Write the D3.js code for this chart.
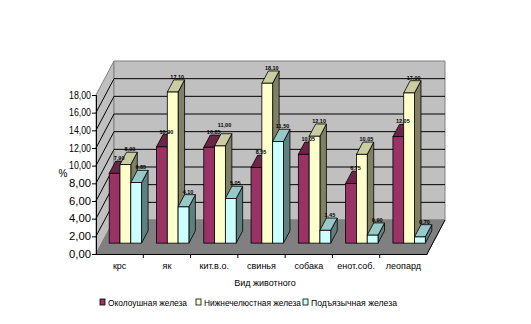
<!DOCTYPE html>
<html><head><meta charset="utf-8">
<script src="https://cdn.jsdelivr.net/npm/d3@7"></script>
<style>body{margin:0;background:#fff}svg{display:block}text{font-family:"Liberation Sans",Arial,sans-serif}</style>
</head><body><svg id="c" width="531" height="324"></svg>
<script>
const categories = ["крс","як","кит.в.о.","свинья","собака","енот.соб.","леопард"];
const seriesNames = ["Околоушная железа","Нижнечелюстная железа","Подъязычная железа"];
const parotid = [7.90,10.90,10.85,8.55,10.05,6.75,12.05];
const mandibular = [8.90,17.10,11.00,18.10,12.10,10.05,17.00];
const sublingual = [6.85,4.10,5.05,11.50,1.45,0.90,0.70];
const yTicks = [0,2,4,6,8,10,12,14,16,18];
const series = [parotid, mandibular, sublingual];
const fronts = ["#993366","#FFFFCC","#CCFFFF"];
const tops = ["#6e2448","#CCCCA3","#99C8C8"];
const sides = ["#4d1933","#808066","#608080"];

const svg = d3.select("#c");
const DX = 18, DY = -34;
const x0 = d3.scaleBand().domain(categories).range([96,427]).paddingInner(0.315).paddingOuter(0.1575);
const x1 = d3.scaleBand().domain(d3.range(3)).range([0,x0.bandwidth()]);
const y = d3.scaleLinear().domain([0,18]).range([254,95]);
const t0 = 0.32, t1 = 0.68;
const pt = (p)=>p.map(q=>q.join(",")).join(" ");

// walls
svg.append("polygon").attr("points",pt([[96,y(0)],[96,y(18)],[96+DX,y(18)+DY],[96+DX,y(0)+DY]])).attr("fill","#c0c0c0").attr("stroke","#808080");
svg.append("polygon").attr("points",pt([[96+DX,y(18)+DY],[427+DX,y(18)+DY],[427+DX,y(0)+DY],[96+DX,y(0)+DY]])).attr("fill","#c0c0c0").attr("stroke","#808080");
svg.append("polygon").attr("points",pt([[96,y(0)],[96+DX,y(0)+DY],[427+DX,y(0)+DY],[427,y(0)]])).attr("fill","#808080").attr("stroke","#808080");
svg.append("line").attr("x1",427).attr("y1",y(0)).attr("x2",427+DX).attr("y2",y(0)+DY).attr("stroke","#000");
// gridlines
yTicks.filter(v=>v>0 && v<18).forEach(v=>{
  svg.append("polyline").attr("points",pt([[96,y(v)],[96+DX,y(v)+DY],[427+DX,y(v)+DY]])).attr("fill","none").attr("stroke","#000").attr("stroke-width",1);
});
// axes
const yAxis = svg.append("g").attr("transform","translate(96,0)").call(d3.axisLeft(y).tickValues(yTicks).tickSize(4).tickFormat(d=>d3.format(".2f")(d).replace(".",",")));
yAxis.select(".domain").attr("stroke","#000");
yAxis.selectAll("text").attr("font-size",10).attr("fill","#000").attr("x",-5).attr("textLength",22).attr("lengthAdjust","spacingAndGlyphs");
const xAxis = svg.append("g").attr("transform","translate(0,254)").call(d3.axisBottom(x0).tickSize(0).tickPadding(10));
xAxis.select(".domain").attr("stroke","#000");
xAxis.selectAll("text").attr("font-size",9).attr("fill","#000").attr("dy","0.5em");
categories.slice(1).forEach(c=>{
  const bx = x0(c) - x0.step()*x0.paddingInner()/2;
  svg.append("line").attr("x1",bx).attr("x2",bx).attr("y1",254).attr("y2",258).attr("stroke","#000");
});

// bars
const ox = DX*t0, oy = DY*t0, ddx = DX*(t1-t0), ddy = DY*(t1-t0);
const labels = [];
categories.forEach((c,i)=>{
  let prev = null;
  series.forEach((s,k)=>{
    const v = s[i];
    const xl = x0(c)+x1(k)+ox, xr = xl + x1.bandwidth();
    const yb = y(0)+oy, yt = y(v)+oy;
    const g = svg.append("g");
    g.append("polygon").attr("points",pt([[xr,yt],[xr+ddx,yt+ddy],[xr+ddx,yb+ddy],[xr,yb]])).attr("fill",sides[k]).attr("stroke","#000").attr("stroke-width",0.8);
    g.append("polygon").attr("points",pt([[xl,yt],[xl+ddx,yt+ddy],[xr+ddx,yt+ddy],[xr,yt]])).attr("fill",tops[k]).attr("stroke","#000").attr("stroke-width",0.8);
    g.append("rect").attr("x",xl).attr("y",yt).attr("width",xr-xl).attr("height",yb-yt).attr("fill",fronts[k]).attr("stroke","#000").attr("stroke-width",0.8);
    let ly = yt+ddy-1;
    if (prev !== null && Math.abs(prev - ly) < 7) ly = prev - 7;
    prev = ly;
    labels.push({x:(xl+xr)/2+ddx*0.7, y:ly, t:d3.format(".2f")(v).replace(".",",")});
  });
});
svg.append("g").selectAll("text").data(labels).join("text")
  .attr("x",d=>d.x).attr("y",d=>d.y).attr("text-anchor","middle").attr("font-size",5.5).attr("font-weight","bold").attr("fill","#000").text(d=>d.t);

svg.append("text").attr("x",63).attr("y",177).attr("font-size",10).attr("text-anchor","middle").text("%");
svg.append("text").attr("x",265).attr("y",286).attr("font-size",9).attr("text-anchor","middle").text("Вид животного");

// legend
const legX = [100,196,303];
const legW = [79,97,86];
seriesNames.forEach((n,k)=>{
  svg.append("rect").attr("x",legX[k]).attr("y",299).attr("width",5).attr("height",6).attr("fill",fronts[k]).attr("stroke","#000").attr("stroke-width",0.8);
  svg.append("text").attr("x",legX[k]+8).attr("y",306).attr("font-size",9).attr("textLength",legW[k]).attr("lengthAdjust","spacingAndGlyphs").text(n);
});
</script></body></html>
